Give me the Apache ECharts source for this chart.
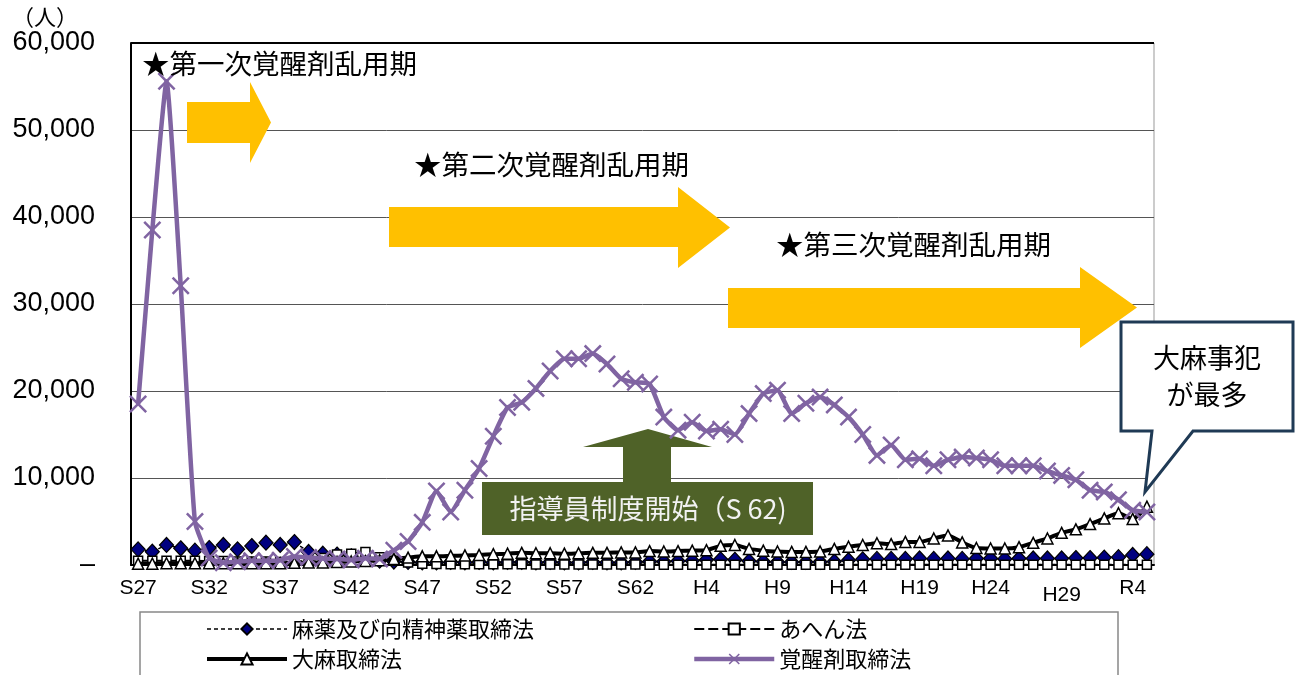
<!DOCTYPE html>
<html><head><meta charset="utf-8">
<script src="https://cdn.jsdelivr.net/npm/echarts@6/dist/echarts.min.js"></script>
<style>html,body{margin:0;padding:0;background:#fff}#c{width:1301px;height:675px}</style>
</head><body><div id="c"></div>
<script>
const categories = [
 'S27','S28','S29','S30','S31','S32','S33','S34','S35','S36',
 'S37','S38','S39','S40','S41','S42','S43','S44','S45','S46',
 'S47','S48','S49','S50','S51','S52','S53','S54','S55','S56',
 'S57','S58','S59','S60','S61','S62','S63',
 'H1','H2','H3','H4','H5','H6','H7','H8','H9','H10',
 'H11','H12','H13','H14','H15','H16','H17','H18','H19','H20',
 'H21','H22','H23','H24','H25','H26','H27','H28','H29','H30',
 'R1','R2','R3','R4','R5'
];
const narcotics = [
 1800,1530,2300,1920,1650,1950,2300,1800,2180,2560,
 2300,2640,1500,1300,1200,1000,700,500,400,350,
 300,300,350,300,350,300,350,350,300,350,
 300,300,350,300,300,350,400,400,450,500,
 600,650,600,450,400,350,350,350,350,400,
 550,650,700,700,700,750,700,750,700,750,
 750,700,750,750,750,750,800,800,850,900,
 1150,1250
];
const opium = [
 500,500,500,500,500,450,450,400,400,400,
 350,350,500,800,1200,1300,1500,900,500,300,
 150,120,100,100,100,80,80,80,60,60,
 60,60,50,50,50,50,40,40,40,40,
 40,40,30,30,30,30,30,30,30,30,
 30,30,30,30,30,30,30,30,20,20,
 20,20,20,20,20,20,20,20,20,20,
 20,20
];
const cannabis = [
 150,150,200,200,200,200,200,200,200,200,
 200,250,280,300,350,400,450,550,700,850,
 1000,1000,1050,1100,1150,1250,1300,1400,1350,1350,
 1300,1350,1400,1400,1450,1450,1600,1550,1600,1650,
 1700,2200,2300,1850,1650,1550,1500,1500,1550,1850,
 2100,2300,2500,2400,2650,2650,3050,3400,2600,1950,
 1900,1900,2050,2550,3050,3700,4100,4700,5350,5950,
 5300,6700
];
const stimulants = [
 18500,38500,55600,32100,5000,800,270,380,480,480,
 550,970,860,740,700,580,780,700,1700,2700,
 4900,8500,6100,8600,11100,14800,18100,18700,20300,22300,
 23700,23700,24300,23100,21400,21000,20800,17000,15500,16400,
 15400,15600,15000,17400,19700,20100,17400,18600,19300,18400,
 17000,15000,12600,13800,12100,12200,11400,12100,12400,12300,
 12100,11400,11400,11400,10800,10300,9800,8600,8400,7500,
 6300,6100
];
const seriesNames = ['麻薬及び向精神薬取締法','あへん法','大麻取締法','覚醒剤取締法'];
const yTicks = [0,10000,20000,30000,40000,50000,60000];

const JP = '"Noto Sans CJK JP","Noto Sans",sans-serif';
const AR = '"Liberation Sans",Arial,sans-serif';
const xPath = 'path://M1,0L5,4L9,0L10,1L6,5L10,9L9,10L5,6L1,10L0,9L4,5L0,1Z';

const chart = echarts.init(document.getElementById('c'), null, {renderer:'canvas'});

function arrow(x0, y0, y1, xb, yt, yb, xt) {
  const ym = (yt + yb) / 2;
  return [[x0,y0],[xb,y0],[xb,yt],[xt,ym],[xb,yb],[xb,y1],[x0,y1]];
}

chart.setOption({
  animation: false,
  backgroundColor: '#fff',
  grid: {left:131, right:147, top:43, bottom:110, show:true, borderColor:'#999', borderWidth:1},
  legend: [
    {orient:'vertical', left:205, top:618, padding:0, height:70, itemWidth:80, itemHeight:14, itemGap:8,
     data:[{name:seriesNames[0], lineStyle:{width:1.5}}, {name:seriesNames[2], lineStyle:{width:4}}],
     textStyle:{fontFamily:JP, fontSize:22, color:'#000'}},
    {orient:'vertical', left:692, top:618, padding:0, height:70, itemWidth:80, itemHeight:14, itemGap:8,
     data:[{name:seriesNames[1], lineStyle:{width:2}}, {name:seriesNames[3], lineStyle:{width:4.5}}],
     textStyle:{fontFamily:JP, fontSize:22, color:'#000'}}
  ],
  xAxis: {
    type:'category', data:categories, boundaryGap:true,
    axisLine:{lineStyle:{color:'#000', width:2}},
    axisTick:{show:false},
    axisLabel:{
      interval:4, margin:13, color:'#000', fontFamily:AR, fontSize:21,
      formatter: v => v === 'H29' ? '{low|' + v + '}' : v,
      rich:{low:{padding:[7,0,0,0], fontFamily:AR, fontSize:21, color:'#000'}}
    }
  },
  yAxis: {
    type:'value', min:yTicks[0], max:yTicks[yTicks.length-1], interval:10000,
    axisLine:{show:true, lineStyle:{color:'#000', width:2}},
    axisTick:{show:false},
    splitLine:{lineStyle:{color:'#555', width:1}},
    axisLabel:{margin:36, color:'#000', fontFamily:AR, fontSize:27,
      formatter: v => v === 0 ? '–' : v.toLocaleString('en-US')}
  },
  series: [
    {name:seriesNames[0], type:'line', data:narcotics, z:3, showAllSymbol:true,
     lineStyle:{color:'#000', width:1.5, type:[4,3]},
     symbol:'diamond', symbolSize:[14,15],
     itemStyle:{color:'#000080', borderColor:'#000', borderWidth:1.2}},
    {name:seriesNames[1], type:'line', data:opium, z:3, showAllSymbol:true,
     lineStyle:{color:'#000', width:2, type:[10,4]},
     symbol:'rect', symbolSize:9,
     itemStyle:{color:'#fff', borderColor:'#000', borderWidth:1.5}},
    {name:seriesNames[2], type:'line', data:cannabis, z:4, smooth:0.2, showAllSymbol:true,
     lineStyle:{color:'#000', width:4},
     symbol:'triangle', symbolSize:11,
     itemStyle:{color:'#fff', borderColor:'#000', borderWidth:1.5}},
    {name:seriesNames[3], type:'line', data:stimulants, z:5, smooth:0.15, showAllSymbol:true,
     lineStyle:{color:'#8064A2', width:4.5},
     symbol:xPath, symbolSize:18,
     itemStyle:{color:'#8064A2'}}
  ],
  graphic: [
    {type:'rect', z:1, shape:{x:140, y:612, width:978, height:70}, style:{fill:'none', stroke:'#888', lineWidth:1.5}},
    {type:'line', z:20, shape:{x1:131, y1:43, x2:1154, y2:43}, style:{stroke:'#000', lineWidth:2}},
    {type:'text', z:20, left:12, top:6, style:{text:'（人）', fontFamily:JP, fontSize:22, fill:'#000'}},
    {type:'polygon', z:10, shape:{points:arrow(187,102,143,250,82,163,271)}, style:{fill:'#FFC000'}},
    {type:'polygon', z:10, shape:{points:arrow(389,207,247,678,187,268,730)}, style:{fill:'#FFC000'}},
    {type:'polygon', z:10, shape:{points:arrow(728,288,328,1080,267,348,1137)}, style:{fill:'#FFC000'}},
    {type:'text', z:20, left:142, top:50, style:{text:'★第一次覚醒剤乱用期', fontFamily:JP, fontSize:27.5, fill:'#000'}},
    {type:'text', z:20, left:414, top:151, style:{text:'★第二次覚醒剤乱用期', fontFamily:JP, fontSize:27.5, fill:'#000'}},
    {type:'text', z:20, left:776, top:231, style:{text:'★第三次覚醒剤乱用期', fontFamily:JP, fontSize:27.5, fill:'#000'}},
    {type:'polygon', z:1, shape:{points:[[583,447],[648,429],[712,447],[671,447],[671,483],[623,483],[623,447]]}, style:{fill:'#4F6228'}},
    {type:'rect', z:1, shape:{x:482, y:482, width:331, height:53}, style:{fill:'#4F6228'}},
    {type:'text', z:2, x:648, y:509, style:{text:'指導員制度開始（S 62)', fontFamily:JP, fontSize:27, fill:'#F2F2F2', align:'center', verticalAlign:'middle'}},
    {type:'polygon', z:30, shape:{points:[[1121,322],[1293,322],[1293,431],[1193,431],[1145,492],[1152,431],[1121,431]]},
     style:{fill:'#fff', stroke:'#1F3A55', lineWidth:3, lineJoin:'miter'}},
    {type:'text', z:31, x:1207, y:358, style:{text:'大麻事犯', fontFamily:JP, fontSize:27, fill:'#000', align:'center', verticalAlign:'middle'}},
    {type:'text', z:31, x:1207, y:395, style:{text:'が最多', fontFamily:JP, fontSize:27, fill:'#000', align:'center', verticalAlign:'middle'}}
  ]
});
</script></body></html>
